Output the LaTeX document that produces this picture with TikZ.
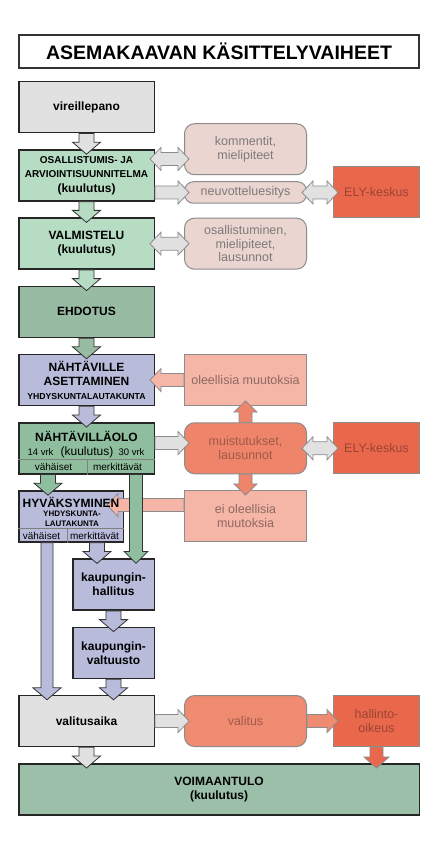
\documentclass[tikz,border=0pt]{standalone}
\usepackage{fontspec}
\setmainfont{Liberation Sans}
\usepackage{tikz}
\usetikzlibrary{positioning, calc}
\definecolor{boxgray}{HTML}{E1E1E1}
\definecolor{lgreen}{HTML}{B6DCC3}
\definecolor{dgreen}{HTML}{98BCA3}
\definecolor{mgreen}{HTML}{8FBE9E}
\definecolor{vgreen}{HTML}{9BBFA8}
\definecolor{lav}{HTML}{B8BBDA}
\definecolor{pinkb}{HTML}{EAD5D0}
\definecolor{lsalmon}{HTML}{F5B5A7}
\definecolor{salmon}{HTML}{EE846A}
\definecolor{salmontwo}{HTML}{EF8B71}
\definecolor{orng}{HTML}{E9674B}
\definecolor{sidetext}{HTML}{7E7A79}
\definecolor{oletext}{HTML}{8C6A62}
\definecolor{muistext}{HTML}{A05A4A}
\definecolor{elytext}{HTML}{9B4534}
\newcommand{\arraw}{6.5pt}
\newcommand{\arrhw}{12pt}
\newcommand{\arrhl}{11pt}
\newcommand{\arrtip}{5pt}
\tikzset{shaft/.store in=\arraw, head/.store in=\arrhw, headlen/.store in=\arrhl}
\tikzstyle{titlebox} = [rectangle, draw=black!80, line width=2pt, fill=white, minimum width=400pt, minimum height=33pt, font=\bfseries\fontsize{19.5}{22}\selectfont]
\tikzstyle{block} = [rectangle, minimum width=135.5pt, minimum height=51pt, text centered, align=center, draw=black!85, line width=1.5pt, inner sep=1pt, font=\bfseries\fontsize{12}{14}\selectfont]
\tikzstyle{side} = [rectangle, rounded corners=10pt, minimum width=122pt, minimum height=51pt, text centered, align=center, draw=black!45, line width=1pt, font=\fontsize{12.5}{13.5}\selectfont]
\tikzstyle{ely} = [side, sharp corners, minimum width=86pt, fill=orng, text=elytext]
\tikzstyle{lbl} = [inner sep=0pt, font=\fontsize{10}{12}\selectfont]
\tikzstyle{lblb} = [inner sep=0pt, font=\bfseries\fontsize{12}{14}\selectfont]
\tikzstyle{lbls} = [inner sep=0pt, align=center, font=\bfseries\fontsize{8}{10}\selectfont]
\tikzstyle{divider} = [draw=black!50, line width=0.6pt]
\tikzstyle{fat} = [line width=0.8pt, line join=miter]
\tikzstyle{bigarr} = [draw=black!80, shaft=7.5pt, head=14pt, headlen=12pt]
\tikzstyle{sidearr} = [draw=black!45, shaft=6.5pt, head=11.5pt, headlen=11pt]
% block arrow: style, from, to
\newcommand{\fatarrow}[3]{%
  \begin{scope}[fat,#1]
  \coordinate (fa-s) at (#2);
  \coordinate (fa-t) at ($(#3)!-\arrtip!(#2)$);
  \coordinate (fa-b) at ($(fa-t)!\arrhl!(fa-s)$);
  \path[draw, fill] ($(fa-s)!\arraw!90:(fa-t)$) -- ($(fa-b)!\arraw!90:(fa-t)$) -- ($(fa-b)!\arrhw!90:(fa-t)$) -- (fa-t) -- ($(fa-b)!\arrhw!-90:(fa-t)$) -- ($(fa-b)!\arraw!-90:(fa-t)$) -- ($(fa-s)!\arraw!-90:(fa-t)$) -- cycle;
  \end{scope}}
% block arrow with two heads
\newcommand{\fatdarrow}[3]{%
  \begin{scope}[fat,#1]
  \coordinate (fa-s) at ($(#2)!-\arrtip!(#3)$);
  \coordinate (fa-t) at ($(#3)!-\arrtip!(#2)$);
  \coordinate (fa-b) at ($(fa-t)!\arrhl!(fa-s)$);
  \coordinate (fa-c) at ($(fa-s)!\arrhl!(fa-t)$);
  \path[draw, fill] (fa-s) -- ($(fa-c)!\arrhw!90:(fa-t)$) -- ($(fa-c)!\arraw!90:(fa-t)$) -- ($(fa-b)!\arraw!90:(fa-t)$) -- ($(fa-b)!\arrhw!90:(fa-t)$) -- (fa-t) -- ($(fa-b)!\arrhw!-90:(fa-t)$) -- ($(fa-b)!\arraw!-90:(fa-t)$) -- ($(fa-c)!\arraw!-90:(fa-t)$) -- ($(fa-c)!\arrhw!-90:(fa-t)$) -- cycle;
  \end{scope}}

\begin{document}
\begin{tikzpicture}[x=1pt, y=-1pt]
\useasboundingbox (0,0) rectangle (432,842);
\fill[white] (0,0) rectangle (432,842);
% Define nodes
\node (title) [titlebox, anchor=north west] at (18,34) {ASEMAKAAVAN KÄSITTELYVAIHEET};
\node (vir) [block, fill=boxgray, anchor=north west] at (18,81) {vireillepano};
\node (oas) [block, fill=lgreen, below=15.7pt of vir] {\fontsize{10}{12}\selectfont OSALLISTUMIS- JA\\\fontsize{10}{12}\selectfont ARVIOINTISUUNNITELMA\\[1pt]\fontsize{12}{14}\selectfont (kuulutus)};
\node (valm) [block, fill=lgreen, below=15.7pt of oas] {VALMISTELU\\(kuulutus)};
\node (ehd) [block, fill=dgreen, below=15.7pt of valm] {EHDOTUS};
\node (nas) [block, fill=lav, below=15.7pt of ehd] {NÄHTÄVILLE\\ASETTAMINEN\\\fontsize{8.7}{10}\selectfont YHDYSKUNTALAUTAKUNTA};
\node (nolo) [block, fill=mgreen, below=15.7pt of nas] {};
\node (hyv) [block, fill=lav, minimum width=104.5pt, below=15.7pt of nolo.south west, anchor=north west] {};
\node (kh) [block, fill=lav, minimum width=81.5pt, anchor=north east] at ($(hyv.south -| nolo.east)+(0,15.7)$) {kaupungin-\\hallitus};
\node (kv) [block, fill=lav, minimum width=81.5pt, below=15.7pt of kh] {kaupungin-\\valtuusto};
\node (val) [block, fill=boxgray, anchor=north] at ($(kv.south -| nolo)+(0,15.7)$) {valitusaika};
\node (voim) [block, fill=vgreen, minimum width=400.5pt, below=15.7pt of val.south west, anchor=north west] {VOIMAANTULO\\(kuulutus)};
\node (neuv) [side, fill=pinkb, text=sidetext, minimum height=21.5pt, rounded corners=9pt, anchor=west] at (184,192.5) {neuvotteluesitys};
\node (komm) [side, fill=pinkb, text=sidetext, above=6pt of neuv] {kommentit,\\mielipiteet};
\node (ely1) [ely, right=26pt of neuv] {ELY-keskus};
\node (osal) [side, fill=pinkb, text=sidetext, right=29pt of valm] {osallistuminen,\\mielipiteet,\\lausunnot};
\node (olee) [side, sharp corners, fill=lsalmon, text=oletext, right=29pt of nas] {oleellisia muutoksia};
\node (muis) [side, fill=salmon, text=muistext, right=29pt of nolo] {muistutukset,\\lausunnot};
\node (ely2) [ely, right=26pt of muis] {ELY-keskus};
\node (eiol) [side, sharp corners, fill=lsalmon, text=oletext, below=15.7pt of muis] {ei oleellisia\\muutoksia};
\node (valitus) [side, fill=salmontwo, text=muistext, right=29pt of val] {valitus};
\node (ho) [ely, right=26pt of valitus] {hallinto-\\oikeus};
\coordinate (hyvin) at (112,505);
% Connect nodes with arrows
\fatarrow{bigarr, fill=boxgray}{vir.south}{oas.north}
\fatarrow{bigarr, fill=lgreen}{oas.south}{valm.north}
\fatarrow{bigarr, fill=lgreen}{valm.south}{ehd.north}
\fatarrow{bigarr, fill=dgreen}{ehd.south}{nas.north}
\fatarrow{bigarr, fill=lav}{nas.south}{nolo.north}
\fatdarrow{sidearr, fill=boxgray}{oas.east |- 0,159}{komm.west |- 0,159}
\fatarrow{sidearr, fill=boxgray}{oas.east |- neuv}{neuv.west}
\fatdarrow{sidearr, fill=boxgray}{neuv.east}{ely1.west |- neuv}
\fatdarrow{sidearr, fill=boxgray}{valm.east}{osal.west}
\fatarrow{sidearr, fill=lsalmon}{olee.west}{nas.east |- olee}
\fatarrow{sidearr, fill=boxgray}{nolo.east |- 0,443}{muis.west |- 0,443}
\fatdarrow{sidearr, fill=boxgray}{muis.east}{ely2.west}
\fatarrow{sidearr, fill=salmon}{muis.north}{olee.south}
\fatarrow{sidearr, fill=salmon}{muis.south}{eiol.north}
\fatarrow{sidearr, fill=lsalmon}{eiol.west |- hyvin}{hyvin}
\fatarrow{bigarr, fill=mgreen}{nolo.south -| 48,0}{hyv.north -| 48,0}
\fatarrow{bigarr, fill=mgreen, shaft=6.5pt, head=12pt}{nolo.south -| 136,0}{kh.north -| 136,0}
\fatarrow{bigarr, fill=lav}{hyv.south -| 97,0}{kh.north -| 97,0}
\fatarrow{bigarr, fill=lav, shaft=6pt}{hyv.south -| 47,0}{val.north -| 47,0}
\fatarrow{bigarr, fill=lav}{kh.south}{kv.north}
\fatarrow{bigarr, fill=lav}{kv.south}{val.north -| kv}
\fatarrow{bigarr, fill=boxgray}{val.south}{voim.north -| val}
\fatarrow{sidearr, fill=boxgray}{val.east}{valitus.west}
\fatarrow{sidearr, fill=salmontwo}{valitus.east}{ho.west}
\fatarrow{sidearr, fill=orng, head=12.5pt}{ho.south}{voim.north -| ho}
% Texts of the split boxes
\draw[divider] (nolo.west |- 0,459) -- (nolo.east |- 0,459);
\draw[divider] (87,459) -- (nolo.south -| 87,0);
\node (noloA) [lblb] at (86.5,436) {NÄHTÄVILLÄOLO};
\node (noloB) [lbl, font=\fontsize{9.5}{11}\selectfont] at (40.5,452) {14 vrk};
\node (noloC) [lbl, font=\fontsize{12}{14}\selectfont] at (87,452) {(kuulutus)};
\node (noloD) [lbl, font=\fontsize{9.5}{11}\selectfont] at (131.5,452) {30 vrk};
\node (noloE) [lbl] at (53.5,466.5) {vähäiset};
\node (noloF) [lbl] at (117.5,466.5) {merkittävät};
\draw[divider] (hyv.west |- 0,528) -- (hyv.east |- 0,528);
\draw[divider] (67,528) -- (hyv.south -| 67,0);
\node (hyvA) [lblb] at (71,502) {HYVÄKSYMINEN};
\node (hyvB) [lbls] at (72,518.5) {YHDYSKUNTA-\\LAUTAKUNTA};
\node (hyvC) [lbl] at (41.5,535.5) {vähäiset};
\node (hyvD) [lbl] at (94.5,535.5) {merkittävät};
\end{tikzpicture}
\end{document}
